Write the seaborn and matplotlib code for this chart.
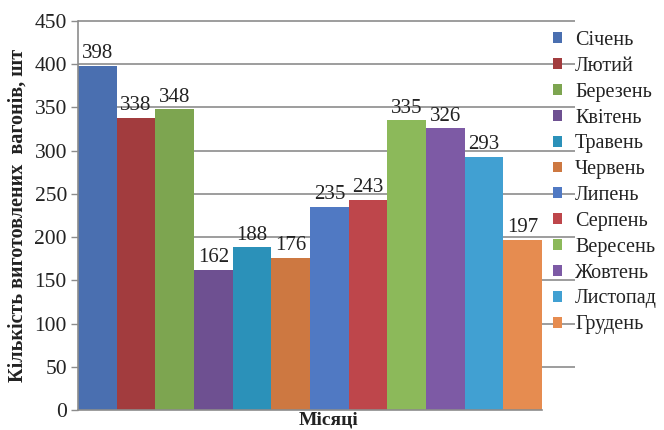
import matplotlib
matplotlib.use("Agg")
import matplotlib.pyplot as plt
import seaborn as sns
import pandas as pd

months = ["Січень", "Лютий", "Березень", "Квітень", "Травень", "Червень",
          "Липень", "Серпень", "Вересень", "Жовтень", "Листопад", "Грудень"]
values = [398, 338, 348, 162, 188, 176, 235, 243, 335, 326, 293, 197]
colors = ["#4A6FB0", "#A23C3E", "#7DA550", "#6E5091", "#2B91B9", "#CD7841",
          "#5079C3", "#BE464B", "#8CB95A", "#7D5AA5", "#41A0D2", "#E68C50"]
y_ticks = [0, 50, 100, 150, 200, 250, 300, 350, 400, 450]

sns.set_style("white")
plt.rcParams["font.serif"] = ["Liberation Serif", "DejaVu Serif"]
plt.rcParams["font.family"] = ["serif"]

df = pd.DataFrame({"month": months, "value": values})

fig = plt.figure(figsize=(6.64, 4.30), dpi=100)
ax = fig.add_axes([78 / 664, 20 / 430, 464 / 664, 389 / 430])

# gridlines (extend a bit to the right like the original)
ax.hlines(y_ticks[1:], -0.5, 12.35, colors="#8c8c8c", linewidth=1.2,
          clip_on=False, zorder=0)

sns.barplot(data=df, x="month", y="value", hue="month", palette=colors,
            width=1.0, saturation=1, dodge=False, legend=True, ax=ax,
            edgecolor="none", zorder=2)

ax.set_xlim(-0.5, 11.5)
ax.set_ylim(0, 450)
ax.set_yticks(y_ticks)
ax.set_yticklabels([str(t) for t in y_ticks], fontsize=15.5, color="#222222")
ax.set_xticks([])
ax.tick_params(axis="y", which="both", left=True, length=5, width=1,
               color="#8c8c8c", pad=3)

for s in ["top", "right"]:
    ax.spines[s].set_visible(False)
for s in ["left", "bottom"]:
    ax.spines[s].set_color("#8c8c8c")
    ax.spines[s].set_linewidth(1.2)

# data labels
for i, v in enumerate(values):
    ax.text(i, v + 3, str(v), ha="center", va="bottom", fontsize=15,
            color="#222222", zorder=3)

ax.set_xlabel("Місяці", fontsize=14, fontweight="bold", color="#222222")
ax.xaxis.set_label_coords((329 - 78) / 464, -(424 - 410) / 389)
ax.xaxis.label.set_va("baseline")
ax.set_ylabel("Кількість виготовлених  вагонів, шт", fontsize=14.5,
              fontweight="bold", color="#222222")
ax.yaxis.set_label_coords(-(78 - 28) / 464, 0.5)

# legend
handles, labels = ax.get_legend_handles_labels()
leg = ax.legend(handles, labels, loc="upper left",
                bbox_to_anchor=(553 / 664, 1 - 31 / 430),
                bbox_transform=fig.transFigure, frameon=False,
                fontsize=14.5, handlelength=0.45, handleheight=0.45,
                handletextpad=0.65, labelspacing=0.34, borderpad=0,
                borderaxespad=0)
for t in leg.get_texts():
    t.set_color("#222222")

fig.savefig("out.png", dpi=100, facecolor="white")
